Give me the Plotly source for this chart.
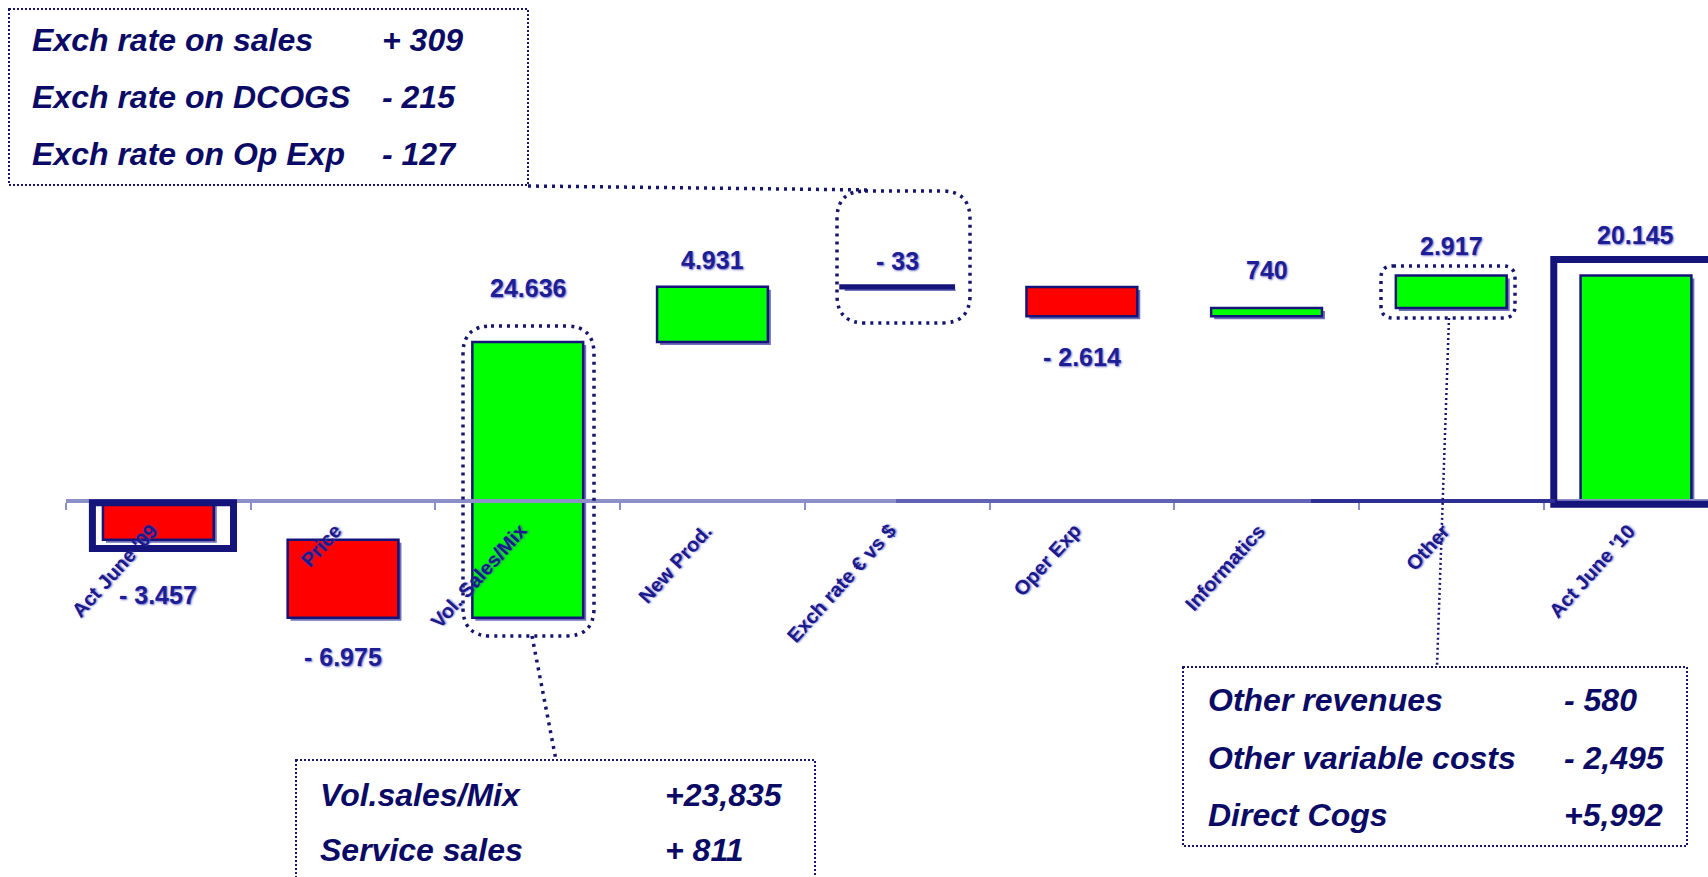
import plotly.graph_objects as go

# ---------------------------------------------------------------- data
categories = ["Act June '09", "Price", "Vol. Sales/Mix", "New Prod.", "Exch rate € vs $",
              "Oper Exp", "Informatics", "Other", "Act June '10"]
deltas = [-3457, -6975, 24636, 4931, -33, -2614, 740, 2917, 20145]
measures = ["absolute", "relative", "relative", "relative", "relative",
            "relative", "relative", "relative", "total"]

exch_items = ["Exch rate on sales", "Exch rate on DCOGS", "Exch rate on Op Exp"]
exch_values = ["+ 309", "- 215", "- 127"]
vol_items = ["Vol.sales/Mix", "Service sales"]
vol_values = ["+23,835", "+ 811"]
other_items = ["Other revenues", "Other variable costs", "Direct Cogs"]
other_values = ["- 580", "- 2,495", "+5,992"]

# ---------------------------------------------------------------- style / layout
W, H = 1708, 877
ML = 66
PW = W - ML
X_MIN, X_MAX = -0.5, 8.39
Y_MIN, Y_MAX = -33571, 44732
PX_PER_UNIT = H / (Y_MAX - Y_MIN)

NAVY = "#14147a"
DOT = "#16166e"
TXT = "#0b0b66"
LABEL = "#1a1a8a"
UP, DOWN = "#00ff00", "#ff0000"
BAR_W = 0.6
SHADOW_PX = 3
# distance (px) between a bar's top/bottom edge and its value label
label_gap_px = [39, 23, 38, 11, 10, 25, 22, 13, 24]
label_above = [False, False, True, True, True, False, True, True, True]


def px(x):
    return (x - ML) / PW


def py(y):
    return 1 - y / H


def fmt(v):
    s = f"{abs(v):,}".replace(",", ".")
    return f"- {s}" if v < 0 else s


# waterfall geometry from the deltas
bases, heights = [], []
running = 0
for m, d in zip(measures, deltas):
    if m == "absolute":
        base = 0
        running = d
    elif m == "total":
        base = 0
    else:
        base = running
        running += d
    bases.append(base)
    heights.append(d)

tops = [max(b, b + h) for b, h in zip(bases, heights)]
bottoms = [min(b, b + h) for b, h in zip(bases, heights)]

xs = list(range(len(categories)))
colors = [UP if d >= 0 else DOWN for d in deltas]
shadow_shift = SHADOW_PX / PX_PER_UNIT

fig = go.Figure()

# soft drop shadow under each bar
fig.add_trace(go.Bar(
    x=xs, y=heights, base=[b - shadow_shift for b in bases],
    width=BAR_W, offset=-BAR_W / 2 + SHADOW_PX / (PW / (X_MAX - X_MIN)),
    marker=dict(color="#6f70b8", line=dict(width=0)),
    hoverinfo="skip", showlegend=False,
))
fig.add_trace(go.Bar(
    x=xs, y=heights, base=bases, width=BAR_W,
    marker=dict(color=colors, line=dict(color=NAVY, width=[2.5, 2.5, 2.5, 2.5, 5, 2.5, 2.5, 2.5, 2.5])),
    hoverinfo="skip", showlegend=False,
))

shapes = []
annotations = []

# framed start / end columns
shapes.append(dict(type="rect", xref="x", yref="y", x0=-0.357, x1=0.407, y0=-150, y1=-4250,
                   line=dict(color=NAVY, width=7), fillcolor="rgba(0,0,0,0)"))
shapes.append(dict(type="rect", xref="x", yref="y", x0=7.555, x1=8.7, y0=-300, y1=21560,
                   line=dict(color=NAVY, width=7), fillcolor="rgba(0,0,0,0)"))

# darker stretches of the category axis
axis_pos = (0 - Y_MIN) / (Y_MAX - Y_MIN)
shapes.append(dict(type="line", xref="paper", yref="paper", x0=px(896), x1=px(1311),
                   y0=axis_pos, y1=axis_pos, line=dict(color="#6063b4", width=4)))
shapes.append(dict(type="line", xref="paper", yref="paper", x0=px(1311), x1=px(1555),
                   y0=axis_pos, y1=axis_pos, line=dict(color="#2d2f95", width=4)))


def rounded(x0, y0, x1, y1, r):
    pts = [
        f"M {px(x0 + r)},{py(y0)}", f"L {px(x1 - r)},{py(y0)}",
        f"Q {px(x1)},{py(y0)} {px(x1)},{py(y0 + r)}", f"L {px(x1)},{py(y1 - r)}",
        f"Q {px(x1)},{py(y1)} {px(x1 - r)},{py(y1)}", f"L {px(x0 + r)},{py(y1)}",
        f"Q {px(x0)},{py(y1)} {px(x0)},{py(y1 - r)}", f"L {px(x0)},{py(y0 + r)}",
        f"Q {px(x0)},{py(y0)} {px(x0 + r)},{py(y0)}", "Z",
    ]
    return " ".join(pts)


ring = dict(color=DOT, width=3.5, dash="3px,5px")
fine = dict(color=DOT, width=2, dash="2px,2px")

# highlight rings around the commented bars
shapes.append(dict(type="path", xref="paper", yref="paper", path=rounded(837, 191, 970, 323, 28), line=ring))
shapes.append(dict(type="path", xref="paper", yref="paper", path=rounded(463, 326, 594, 636, 28), line=ring))
shapes.append(dict(type="path", xref="paper", yref="paper", path=rounded(1381, 266, 1515, 318, 12), line=ring))

# comment boxes and their leaders
for (x0, y0, x1, y1) in [(9, 9, 528, 185), (296, 760, 815, 900), (1183, 667, 1687, 846)]:
    shapes.append(dict(type="rect", xref="paper", yref="paper", x0=px(x0), x1=px(x1),
                       y0=py(y0), y1=py(y1), line=fine))
shapes.append(dict(type="line", xref="paper", yref="paper", x0=px(528), x1=px(872),
                   y0=py(186), y1=py(190), line=ring))
shapes.append(dict(type="line", xref="paper", yref="paper", x0=px(532), x1=px(556),
                   y0=py(636), y1=py(760), line=ring))
shapes.append(dict(type="line", xref="paper", yref="paper", x0=px(1449), x1=px(1437),
                   y0=py(318), y1=py(667), line=dict(color=DOT, width=2.5, dash="2px,3px")))

# value labels
val_font = dict(family="Liberation Sans, Arial, sans-serif", size=25, color="#1e1e94", weight="bold",
                shadow="1px 1px 2px rgba(70,70,190,0.75)")
for i, d in enumerate(deltas):
    above = label_above[i]
    annotations.append(dict(
        x=i, y=tops[i] if above else bottoms[i], xref="x", yref="y", text=fmt(d), showarrow=False,
        yanchor="bottom" if above else "top",
        yshift=label_gap_px[i] if above else -label_gap_px[i],
        font=val_font,
    ))

# rotated category labels under the axis
cat_font = dict(family="Liberation Sans, Arial, sans-serif", size=20, color=LABEL, weight="bold",
                shadow="1px 1px 2px rgba(70,70,190,0.7)")
for i, c in enumerate(categories):
    annotations.append(dict(
        x=i, y=0, xref="x", yref="y", text=c, showarrow=False, textangle=-48,
        xanchor="right", yanchor="top", xshift=6, yshift=-16, font=cat_font,
    ))

# comment texts
note_font = dict(family="Liberation Sans, Arial, sans-serif", size=32, color=TXT,
                 weight="bold", style="italic")


def note_rows(items, values, x_text, x_val, rows_y):
    for item, val, y in zip(items, values, rows_y):
        annotations.append(dict(x=px(x_text), y=py(y), xref="paper", yref="paper", text=item,
                                showarrow=False, xanchor="left", yanchor="middle", font=note_font))
        annotations.append(dict(x=px(x_val), y=py(y), xref="paper", yref="paper", text=val,
                                showarrow=False, xanchor="left", yanchor="middle", font=note_font))


note_rows(exch_items, exch_values, 30, 380, [40, 97, 154])
note_rows(vol_items, vol_values, 318, 663, [795, 850])
note_rows(other_items, other_values, 1206, 1562, [700, 758, 815])

fig.update_layout(
    width=W, height=H,
    margin=dict(l=ML, r=0, t=0, b=0),
    paper_bgcolor="white", plot_bgcolor="white",
    barmode="overlay",
    showlegend=False,
    shapes=shapes,
    annotations=annotations,
    xaxis=dict(
        range=[X_MIN, X_MAX], anchor="free", position=axis_pos,
        showline=True, linecolor="#8d90c8", linewidth=4,
        showgrid=False, zeroline=False,
        tickmode="array", tickvals=[i - 0.5 for i in range(len(categories))],
        ticks="outside", ticklen=7, tickwidth=2, tickcolor="#8d90c8",
        showticklabels=False,
    ),
    yaxis=dict(range=[Y_MIN, Y_MAX], visible=False, fixedrange=True),
)

fig.write_html("out.html")
